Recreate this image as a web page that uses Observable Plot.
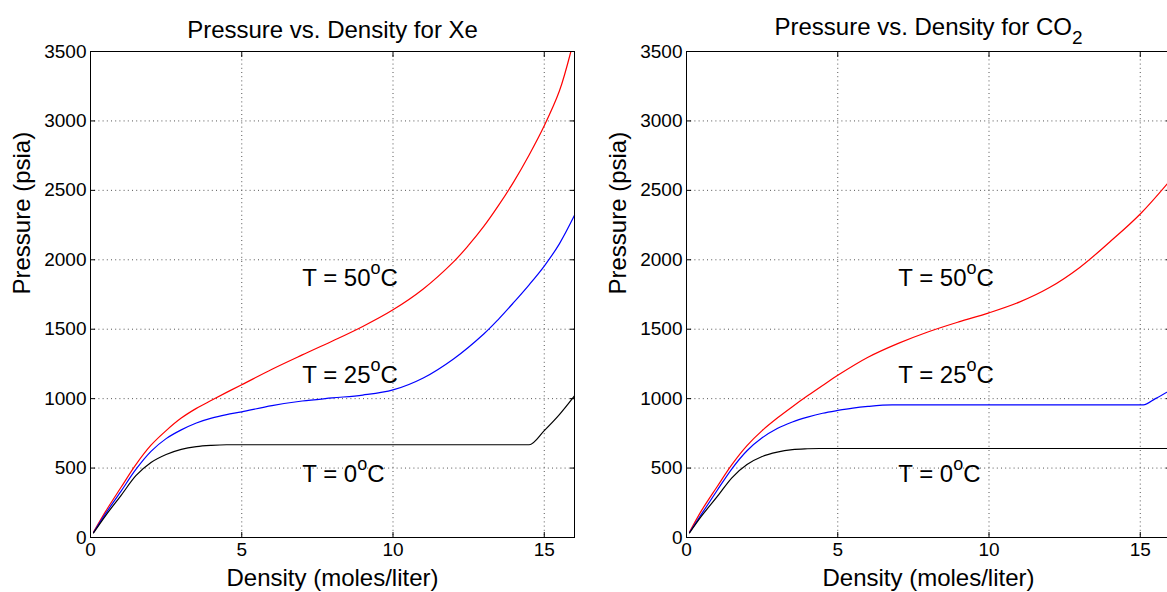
<!DOCTYPE html>
<html><head><meta charset="utf-8">
<script src="https://cdn.jsdelivr.net/npm/d3@7"></script>
<script src="https://cdn.jsdelivr.net/npm/@observablehq/plot@0.6"></script>
<style>
html,body{margin:0;padding:0;overflow:hidden;background:#fff;width:1167px;height:592px}
#wrap{position:relative;width:1167px;height:592px;overflow:hidden;background:#fff}
.panel{position:absolute;top:0}
</style></head><body><div id="wrap"></div>
<script>
// ---- Xe: density (moles/liter) vs pressure (psia) ----
const xeDensity50 = [0.1, 0.5, 1, 1.5, 2, 2.5, 3, 3.5, 4, 4.5, 5, 6, 7, 8, 9, 10, 11, 12, 12.5, 13, 13.5, 14, 14.5, 15, 15.5, 15.88];
const xePressure50 = [39, 188, 358, 525, 665, 770, 860, 930, 988, 1045, 1100, 1212, 1315, 1415, 1520, 1640, 1790, 1985, 2105, 2240, 2395, 2565, 2755, 2965, 3215, 3500];
const xeDensity25 = [0.1, 0.5, 1, 1.5, 2, 2.5, 3, 3.5, 4, 4.5, 5, 6, 7, 8, 9, 10, 11, 12, 13, 13.5, 14, 14.5, 15, 15.5, 16];
const xePressure25 = [36, 172, 330, 490, 620, 712, 775, 825, 860, 885, 905, 950, 983, 1005, 1026, 1063, 1149, 1286, 1466, 1575, 1695, 1820, 1955, 2115, 2320];
const xeDensity0 = [0.1, 0.5, 1, 1.5, 2, 2.5, 3, 3.5, 4, 4.5, 14.5, 15, 15.5, 16];
const xePressure0 = [33, 158, 300, 445, 540, 598, 635, 655, 664, 668, 668, 770, 885, 1020];

// ---- CO2 ----
const co2Density50 = [0.1, 0.5, 1, 1.5, 2, 2.5, 3, 3.5, 4, 4.5, 5, 6, 7, 8, 9, 10, 11, 12, 13, 14, 15, 16];
const co2Pressure50 = [39, 195, 362, 525, 662, 770, 860, 942, 1020, 1095, 1168, 1298, 1398, 1482, 1553, 1618, 1695, 1800, 1945, 2130, 2330, 2575];
const co2Density25 = [0.1, 0.5, 1, 1.5, 2, 2.5, 3, 3.5, 4, 4.5, 5, 5.5, 6, 6.8, 15.1, 15.5, 16];
const co2Pressure25 = [36, 170, 335, 495, 625, 718, 785, 832, 867, 895, 915, 932, 944, 955, 955, 1000, 1062];
const co2Density0 = [0.1, 0.5, 1, 1.5, 2, 2.5, 3, 3.5, 4, 4.4, 16];
const co2Pressure0 = [33, 155, 290, 430, 525, 583, 615, 633, 639, 641, 641];

// ---- ticks, labels ----
const xTicks = [0, 5, 10, 15];
const yTicks = [0, 500, 1000, 1500, 2000, 2500, 3000, 3500];
const seriesColors = ["red", "blue", "black"];
const annotationText = ["T = 50^oC", "T = 25^oC", "T = 0^oC"];
const annotationDensity = [7, 7, 7];
const annotationPressure = [1866, 1169, 458];
const titles = ["Pressure vs. Density for Xe", "Pressure vs. Density for CO_2"];
const xLabel = "Density (moles/liter)";
const yLabel = "Pressure (psia)";

function rows(xs, ys) { return xs.map((x, i) => ({x, y: ys[i]})); }

function richify(svg) {
  svg.querySelectorAll("text").forEach(t => {
    const s = t.textContent;
    if (!/[\^_]/.test(s)) return;
    t.textContent = "";
    const ns = "http://www.w3.org/2000/svg";
    let shift = 0;
    let i = 0, buf = "";
    const flush = () => {
      if (!buf) return;
      const sp = document.createElementNS(ns, "tspan");
      if (shift) { sp.setAttribute("dy", -shift); shift = 0; }
      sp.textContent = buf; t.appendChild(sp); buf = "";
    };
    while (i < s.length) {
      const c = s[i];
      if (c === "^" || c === "_") {
        flush();
        const ch = s[i + 1];
        const sp = document.createElementNS(ns, "tspan");
        const d = c === "^" ? -12 : 9;
        sp.setAttribute("dy", d - shift);
        sp.setAttribute("font-size", c === "^" ? "18px" : "19px");
        sp.textContent = ch;
        t.appendChild(sp);
        shift = d;
        i += 2;
      } else { buf += c; i++; }
    }
    flush();
  });
}

const fmt = d => String(d);

function panel(series, curves, title, titleDy) {
  const lines = series.map(([xs, ys], k) =>
    Plot.line(rows(xs, ys), {x: "x", y: "y", stroke: seriesColors[k], strokeWidth: 1.2, curve: curves[k]}));
  const ann = annotationText.map((t, i) => ({x: annotationDensity[i], y: annotationPressure[i], t}));
  const svg = Plot.plot({
    width: 595, height: 592,
    marginLeft: 90, marginRight: 21, marginTop: 51, marginBottom: 55,
    style: {fontFamily: "'Liberation Sans', Arial, Helvetica, sans-serif", fontSize: "19px", background: "white", overflow: "visible", color: "black"},
    x: {domain: [0, 16]},
    y: {domain: [0, 3500]},
    marks: [
      Plot.gridX(xTicks, {stroke: "#555", strokeOpacity: 1, strokeDasharray: "1,3.2"}),
      Plot.gridY(yTicks, {stroke: "#555", strokeOpacity: 1, strokeDasharray: "1,3.2"}),
      ...lines,
      Plot.axisX(xTicks, {anchor: "bottom", tickSize: -5, tickPadding: 10, label: null, fontSize: 19, tickFormat: fmt}),
      Plot.axisX(xTicks, {anchor: "top", tickSize: -5, tickFormat: () => "", label: null}),
      Plot.axisY(yTicks, {anchor: "left", tickSize: -5, tickPadding: 9, label: null, fontSize: 19, tickFormat: fmt}),
      Plot.axisY(yTicks, {anchor: "right", tickSize: -5, tickFormat: () => "", label: null}),
      Plot.frame({stroke: "black", strokeWidth: 1}),
      Plot.text(ann, {x: "x", y: "y", text: "t", textAnchor: "start", fontSize: 24, fill: "black"}),
      Plot.text([title], {frameAnchor: "top", lineAnchor: "middle", dy: titleDy, fontSize: 24, fill: "black"}),
      Plot.text([xLabel], {frameAnchor: "bottom", lineAnchor: "middle", dy: 41, fontSize: 24, fill: "black"}),
      Plot.text([yLabel], {frameAnchor: "left", lineAnchor: "middle", dx: -68, rotate: -90, fontSize: 24, fill: "black"})
    ]
  });
  richify(svg);
  return svg;
}

const wrap = document.getElementById("wrap");
const left = panel([[xeDensity50, xePressure50], [xeDensity25, xePressure25], [xeDensity0, xePressure0]],
  ["catmull-rom", "catmull-rom", "monotone-x"], titles[0], -21);
left.classList.add("panel"); left.style.left = "0px";
const right = panel([[co2Density50, co2Pressure50], [co2Density25, co2Pressure25], [co2Density0, co2Pressure0]],
  ["catmull-rom", "monotone-x", "monotone-x"], titles[1], -24);
right.classList.add("panel"); right.style.left = "596px";
wrap.appendChild(left); wrap.appendChild(right);
</script></body></html>
